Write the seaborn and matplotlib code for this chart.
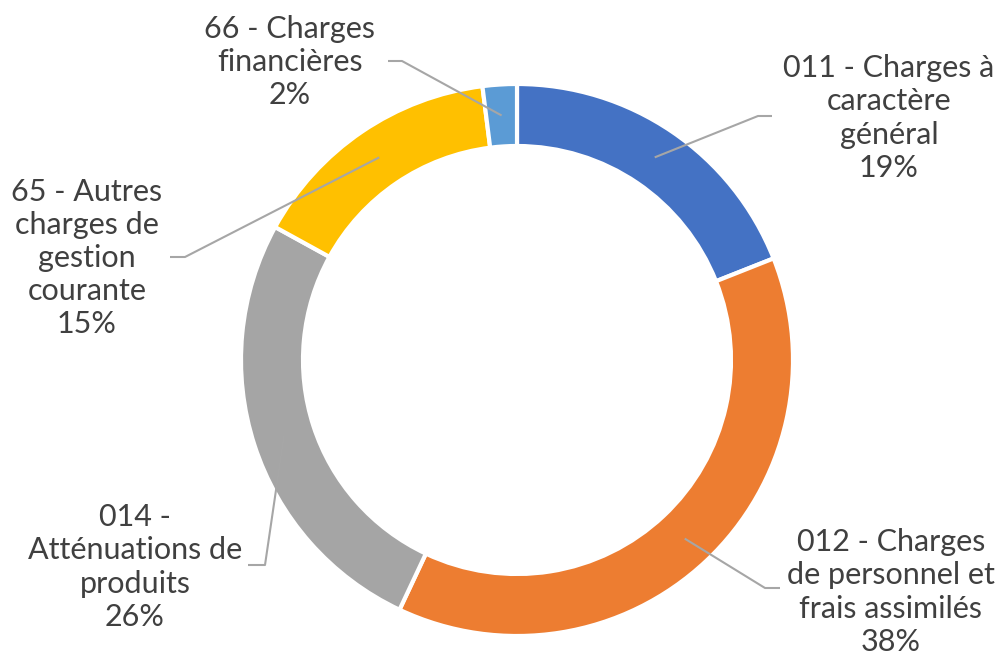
import matplotlib
matplotlib.use("Agg")
import matplotlib.pyplot as plt
import numpy as np
import seaborn as sns

# Budget breakdown: operating expenses by chapter
categories = [
    "011 - Charges à\ncaractère\ngénéral",
    "012 - Charges\nde personnel et\nfrais assimilés",
    "014 -\nAtténuations de\nproduits",
    "65 - Autres\ncharges de\ngestion\ncourante",
    "66 - Charges\nfinancières",
]
shares = [19, 38, 26, 15, 2]
colors = ["#4472C4", "#ED7D31", "#A5A5A5", "#FFC000", "#5B9BD5"]

# Label anchor (elbow of the leader line, end of the short tail, text centre), in pixels
elbows = [(758, 116), (765, 588), (265, 565), (185, 257), (402, 61)]
tails = [(772, 116), (780, 588), (248, 565), (170, 257), (388, 61)]
text_pos = [(889, 118), (891, 592), (135, 567), (87, 258), (290, 62)]

sns.set_theme(style="white")
plt.rcParams["font.family"] = ["Lato", "DejaVu Sans"]

W, H = 1003, 654
fig = plt.figure(figsize=(W / 100, H / 100), dpi=100)
ax = fig.add_axes([0, 0, 1, 1])

cx, cy = 517, H - 360
R, ring = 276, 62

wedges, _ = ax.pie(
    shares,
    colors=colors,
    startangle=90,
    counterclock=False,
    center=(cx, cy),
    radius=R,
    wedgeprops=dict(width=ring, edgecolor="white", linewidth=3),
    frame=True,
)
ax.set_xlim(0, W)
ax.set_ylim(0, H)
ax.set_aspect("equal")
ax.axis("off")

line_col = "#A6A6A6"
text_col = "#404040"
rmid = R - ring / 2
for w, lab, val, el, tl, tp in zip(wedges, categories, shares, elbows, tails, text_pos):
    ang = np.deg2rad((w.theta1 + w.theta2) / 2)
    sx, sy = cx + rmid * np.cos(ang), cy + rmid * np.sin(ang)
    ax.plot([sx, el[0], tl[0]], [sy, H - el[1], H - tl[1]],
            color=line_col, lw=1.5, solid_capstyle="butt", zorder=3)
    ax.text(tp[0], H - tp[1], f"{lab}\n{val}%", ha="center", va="center",
            fontsize=22, color=text_col, linespacing=1.22, zorder=4)

fig.savefig("out.png", dpi=100, facecolor="white")
